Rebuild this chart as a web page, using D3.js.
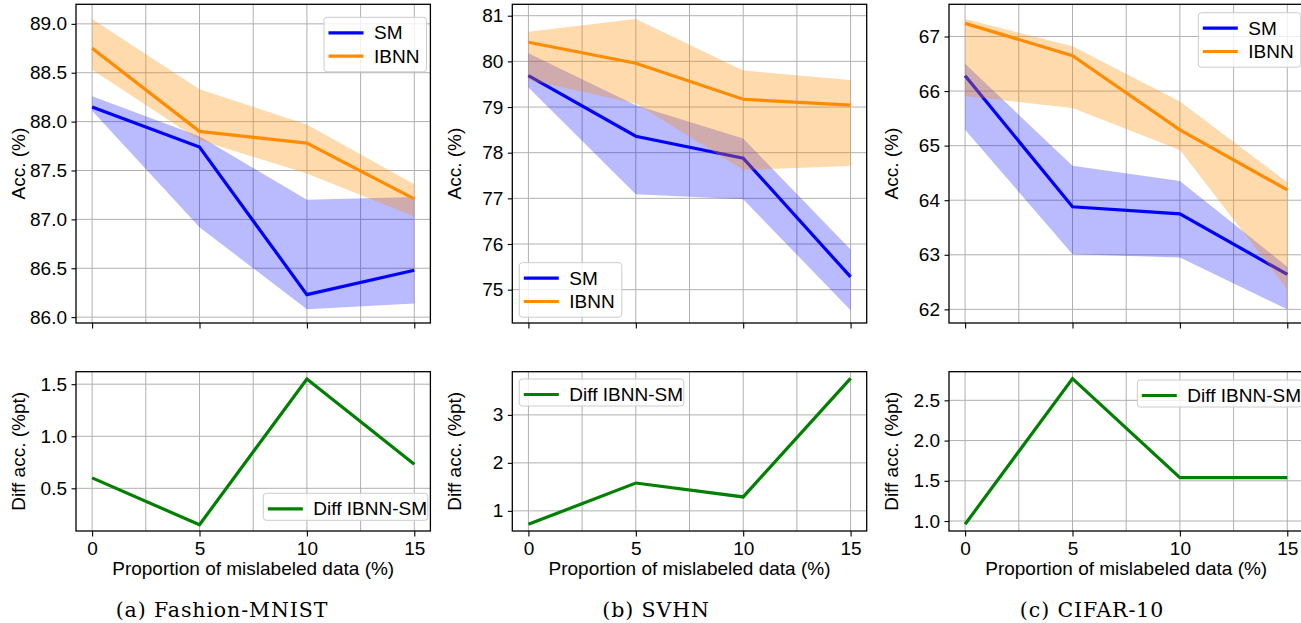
<!DOCTYPE html>
<html>
<head>
<meta charset="utf-8">
<script src="https://cdn.jsdelivr.net/npm/d3@7"></script>
<style>
  body { margin: 0; background: #fff; }
  svg { display: block; }
  text { font-family: "Liberation Sans", Arial, sans-serif; fill: #000; }
</style>
</head>
<body>
<svg id="chart" width="1301" height="623"></svg>
<script>
"use strict";

// proportion of mislabeled data (%)
const noise = [0, 5, 10, 15];
const xTicks = [0, 5, 10, 15];
const xGrid = [0, 2.5, 5, 7.5, 10, 12.5, 15];

// Fashion-MNIST
const fmnistSM = [88.15, 87.74, 86.23, 86.48];
const fmnistSMLow = [88.11, 86.92, 86.08, 86.14];
const fmnistSMHigh = [88.26, 87.85, 87.2, 87.23];
const fmnistIBNN = [88.75, 87.9, 87.78, 87.21];
const fmnistIBNNLow = [88.53, 87.81, 87.47, 87.03];
const fmnistIBNNHigh = [89.05, 88.33, 87.97, 87.36];
const fmnistDiff = [0.6, 0.15, 1.55, 0.73];
const fmnistAccTicks = [86.0, 86.5, 87.0, 87.5, 88.0, 88.5, 89.0];
const fmnistDiffTicks = [0.5, 1.0, 1.5];

// SVHN
const svhnSM = [79.69, 78.36, 77.88, 75.28];
const svhnSMLow = [79.43, 77.09, 76.98, 74.55];
const svhnSMHigh = [80.18, 79.04, 78.31, 75.88];
const svhnIBNN = [80.42, 79.96, 79.17, 79.04];
const svhnIBNNLow = [79.59, 79.08, 77.62, 77.71];
const svhnIBNNHigh = [80.65, 80.93, 79.8, 79.59];
const svhnDiff = [0.72, 1.58, 1.29, 3.76];
const svhnAccTicks = [75, 76, 77, 78, 79, 80, 81];
const svhnDiffTicks = [1, 2, 3];

// CIFAR-10
const cifarSM = [66.28, 63.88, 63.75, 62.64];
const cifarSMLow = [65.29, 63.01, 62.95, 62.0];
const cifarSMHigh = [66.5, 64.63, 64.35, 62.78];
const cifarIBNN = [67.24, 66.65, 65.29, 64.19];
const cifarIBNNLow = [65.91, 65.69, 64.92, 62.37];
const cifarIBNNHigh = [67.32, 66.82, 65.81, 64.33];
const cifarDiff = [0.96, 2.77, 1.54, 1.54];
const cifarAccTicks = [62, 63, 64, 65, 66, 67];
const cifarDiffTicks = [1.0, 1.5, 2.0, 2.5];

const captions = ["(a) Fashion-MNIST", "(b) SVHN", "(c) CIFAR-10"];

const SM_COLOR = "#0000ff";
const IBNN_COLOR = "#ff8c00";
const DIFF_COLOR = "#008000";

const panels = [
  {
    left: 76, caption: captions[0], captionX: 222,
    sm: fmnistSM, smLow: fmnistSMLow, smHigh: fmnistSMHigh,
    ibnn: fmnistIBNN, ibnnLow: fmnistIBNNLow, ibnnHigh: fmnistIBNNHigh,
    diff: fmnistDiff,
    accDomain: [85.94, 89.2], accTicks: fmnistAccTicks, accFmt: ".1f",
    diffDomain: [0.09, 1.62], diffTicks: fmnistDiffTicks, diffFmt: ".1f",
    legendTop: [324, 17.3], legendBottom: [263.3, 493.3],
  },
  {
    left: 512.3, caption: captions[1], captionX: 656,
    sm: svhnSM, smLow: svhnSMLow, smHigh: svhnSMHigh,
    ibnn: svhnIBNN, ibnnLow: svhnIBNNLow, ibnnHigh: svhnIBNNHigh,
    diff: svhnDiff,
    accDomain: [74.27, 81.25], accTicks: svhnAccTicks, accFmt: "d",
    diffDomain: [0.58, 3.9], diffTicks: svhnDiffTicks, diffFmt: "d",
    legendTop: [519.3, 262.7], legendBottom: [519.3, 379],
  },
  {
    left: 949, caption: captions[2], captionX: 1092,
    sm: cifarSM, smLow: cifarSMLow, smHigh: cifarSMHigh,
    ibnn: cifarIBNN, ibnnLow: cifarIBNNLow, ibnnHigh: cifarIBNNHigh,
    diff: cifarDiff,
    accDomain: [61.75, 67.59], accTicks: cifarAccTicks, accFmt: "d",
    diffDomain: [0.876, 2.856], diffTicks: cifarDiffTicks, diffFmt: ".1f",
    legendTop: [1198.3, 12.7], legendBottom: [1137.3, 380],
  },
];

const plotW = 354.4;
const topBox = [4.3, 323];
const bottomBox = [371.7, 531];
const FONT = 19;

const svg = d3.select("#chart");

function drawFrame(g, x, y, yTicks, fmt, top, bottom, showXLabels) {
  // grid
  g.append("g")
    .selectAll("line")
    .data(xGrid)
    .join("line")
    .attr("x1", (d) => x(d))
    .attr("x2", (d) => x(d))
    .attr("y1", top)
    .attr("y2", bottom)
    .attr("stroke", "#b0b0b0")
    .attr("stroke-width", 1);

  g.append("g")
    .selectAll("line")
    .data(yTicks)
    .join("line")
    .attr("x1", x.range()[0])
    .attr("x2", x.range()[1])
    .attr("y1", (d) => y(d))
    .attr("y2", (d) => y(d))
    .attr("stroke", "#b0b0b0")
    .attr("stroke-width", 1);

  // y axis
  const yAxis = d3.axisLeft(y)
    .tickValues(yTicks)
    .tickSize(4.5)
    .tickPadding(4.5)
    .tickFormat(d3.format(fmt));
  const ya = g.append("g")
    .attr("transform", `translate(${x.range()[0]},0)`)
    .call(yAxis);
  ya.select(".domain").remove();
  ya.selectAll("line").attr("stroke", "#000").attr("stroke-width", 1.1);
  ya.selectAll("text")
    .style("font-size", FONT + "px")
    .style("font-family", "'Liberation Sans', Arial, sans-serif");

  // x axis
  const xAxis = d3.axisBottom(x)
    .tickValues(xTicks)
    .tickSize(5.5)
    .tickPadding(5)
    .tickFormat(showXLabels ? d3.format("d") : "");
  const xa = g.append("g")
    .attr("transform", `translate(0,${bottom})`)
    .call(xAxis);
  xa.select(".domain").remove();
  xa.selectAll("line").attr("stroke", "#000").attr("stroke-width", 1.1);
  xa.selectAll("text")
    .style("font-size", FONT + "px")
    .style("font-family", "'Liberation Sans', Arial, sans-serif");
}

function drawSpines(g, x, top, bottom) {
  g.append("rect")
    .attr("x", x.range()[0])
    .attr("y", top)
    .attr("width", x.range()[1] - x.range()[0])
    .attr("height", bottom - top)
    .attr("fill", "none")
    .attr("stroke", "#000")
    .attr("stroke-width", 1.3);
}

function drawLegend(g, pos, items, w, h) {
  const lg = g.append("g").attr("transform", `translate(${pos[0]},${pos[1]})`);
  lg.append("rect")
    .attr("width", w)
    .attr("height", h)
    .attr("rx", 3)
    .attr("fill", "#fff")
    .attr("fill-opacity", 0.8)
    .attr("stroke", "#cccccc")
    .attr("stroke-width", 1);
  items.forEach((item, i) => {
    const cy = 15.5 + i * 23.3;
    lg.append("line")
      .attr("x1", 4.5)
      .attr("x2", 39.5)
      .attr("y1", cy)
      .attr("y2", cy)
      .attr("stroke", item.color)
      .attr("stroke-width", 3.2);
    lg.append("text")
      .attr("x", 50)
      .attr("y", cy)
      .attr("dy", "0.35em")
      .style("font-size", FONT + "px")
      .text(item.label);
  });
}

panels.forEach((p) => {
  const g = svg.append("g");
  const x = d3.scaleLinear().domain([-0.75, 15.75]).range([p.left, p.left + plotW]);

  // top: accuracy with bands
  const yAcc = d3.scaleLinear().domain(p.accDomain).range([topBox[1], topBox[0]]);
  drawFrame(g, x, yAcc, p.accTicks, p.accFmt, topBox[0], topBox[1], false);

  const band = (lo, hi) =>
    d3.area()
      .x((d, i) => x(noise[i]))
      .y0((d, i) => yAcc(lo[i]))
      .y1((d, i) => yAcc(hi[i]))(noise);
  const line = (vals, y) =>
    d3.line()
      .x((d, i) => x(noise[i]))
      .y((d) => y(d))(vals);

  g.append("path")
    .attr("d", band(p.smLow, p.smHigh))
    .attr("fill", SM_COLOR)
    .attr("fill-opacity", 0.27);
  g.append("path")
    .attr("d", line(p.sm, yAcc))
    .attr("fill", "none")
    .attr("stroke", SM_COLOR)
    .attr("stroke-width", 3.2);
  g.append("path")
    .attr("d", band(p.ibnnLow, p.ibnnHigh))
    .attr("fill", IBNN_COLOR)
    .attr("fill-opacity", 0.32);
  g.append("path")
    .attr("d", line(p.ibnn, yAcc))
    .attr("fill", "none")
    .attr("stroke", IBNN_COLOR)
    .attr("stroke-width", 3.2);

  drawSpines(g, x, topBox[0], topBox[1]);
  drawLegend(g, p.legendTop, [
    { label: "SM", color: SM_COLOR },
    { label: "IBNN", color: IBNN_COLOR },
  ], 102.5, 54.5);

  g.append("text")
    .attr("transform", `translate(${p.left - 57.5},${(topBox[0] + topBox[1]) / 2}) rotate(-90)`)
    .attr("text-anchor", "middle")
    .attr("dy", "0.35em")
    .style("font-size", FONT + "px")
    .text("Acc. (%)");

  // bottom: difference
  const yDiff = d3.scaleLinear().domain(p.diffDomain).range([bottomBox[1], bottomBox[0]]);
  drawFrame(g, x, yDiff, p.diffTicks, p.diffFmt, bottomBox[0], bottomBox[1], true);

  g.append("path")
    .attr("d", line(p.diff, yDiff))
    .attr("fill", "none")
    .attr("stroke", DIFF_COLOR)
    .attr("stroke-width", 3.2);

  drawSpines(g, x, bottomBox[0], bottomBox[1]);
  drawLegend(g, p.legendBottom, [{ label: "Diff IBNN-SM", color: DIFF_COLOR }], 164.5, 27);

  g.append("text")
    .attr("transform", `translate(${p.left - 57.5},${(bottomBox[0] + bottomBox[1]) / 2}) rotate(-90)`)
    .attr("text-anchor", "middle")
    .attr("dy", "0.35em")
    .style("font-size", FONT + "px")
    .text("Diff acc. (%pt)");

  g.append("text")
    .attr("x", p.left + plotW / 2)
    .attr("y", 575)
    .attr("text-anchor", "middle")
    .style("font-size", FONT + "px")
    .text("Proportion of mislabeled data (%)");

  g.append("text")
    .attr("x", p.captionX)
    .attr("y", 617)
    .attr("text-anchor", "middle")
    .style("font-family", "'DejaVu Serif', serif")
    .style("font-size", "20.5px")
    .style("letter-spacing", "0.9px")
    .text(p.caption);
});
</script>
</body>
</html>
